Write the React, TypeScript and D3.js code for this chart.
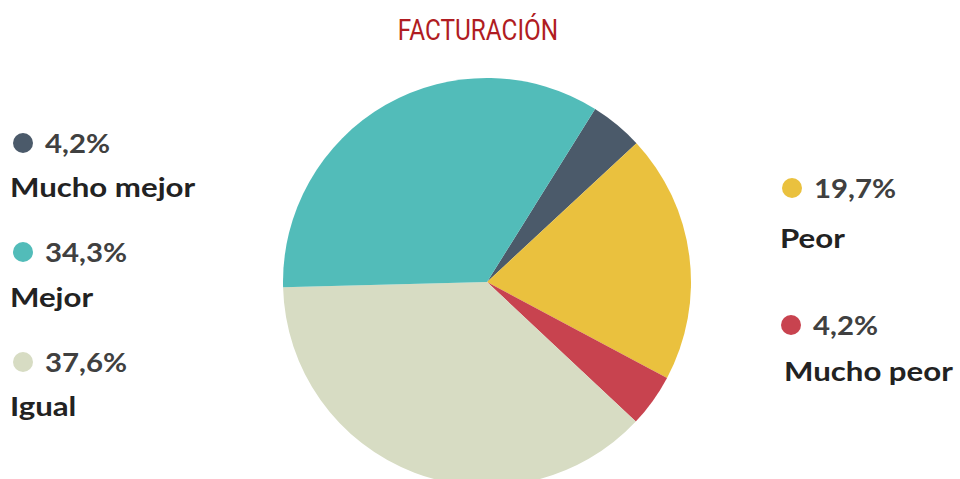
import React, { useRef, useEffect } from "react";
import * as d3 from "d3";

// slices in drawing order (clockwise from the start angle)
const labels = ["Mucho mejor", "Peor", "Mucho peor", "Igual", "Mejor"];
const values = [4.2, 19.7, 4.2, 37.6, 34.3];
const colors = ["#4b5a6a", "#eac13e", "#c8434f", "#d7dcc3", "#52bcb9"];

// legend layout: [dotX, dotY, labelX, labelY]
const legendPos: Record<string, [number, number, number, number]> = {
  "Mucho mejor": [23, 143, 10, 197],
  Mejor: [23, 252, 10, 307],
  Igual: [23, 362, 10, 416],
  Peor: [792, 188, 780, 248],
  "Mucho peor": [791, 325, 784, 381],
};

const fmt = (v: number) => v.toFixed(1).replace(".", ",") + "%";

const stretch = (x: number, s: number) => `translate(${x},0) scale(${s},1) translate(${-x},0)`;

const App: React.FC = () => {
  const svgRef = useRef<SVGSVGElement>(null);

  useEffect(() => {
    if (!svgRef.current) return;
    const svg = d3.select(svgRef.current);
    svg.selectAll("*").remove();

    const width = 960;
    const height = 479;
    const cx = 487;
    const cy = 282;
    const radius = 204;

    svg.attr("width", width).attr("height", height);

    svg.append("text")
      .attr("x", 478)
      .attr("y", 40)
      .attr("text-anchor", "middle")
      .attr("font-family", "Roboto, sans-serif")
      .attr("font-size", 29)
      .attr("fill", "#b01c22")
      .attr("transform", stretch(478, 0.84))
      .text("FACTURACIÓN");

    const data = labels.map((l, i) => ({ label: l, value: values[i], color: colors[i] }));

    const start = (32 * Math.PI) / 180;
    const pie = d3.pie<{ label: string; value: number; color: string }>()
      .sort(null)
      .value((d) => d.value)
      .startAngle(start)
      .endAngle(start + 2 * Math.PI);

    const arc = d3.arc<d3.PieArcDatum<{ label: string; value: number; color: string }>>()
      .innerRadius(0)
      .outerRadius(radius);

    const g = svg.append("g").attr("transform", `translate(${cx},${cy})`);
    g.selectAll("path")
      .data(pie(data))
      .join("path")
      .attr("d", arc)
      .attr("fill", (d) => d.data.color);

    const font = "Lato, 'Open Sans', sans-serif";
    data.forEach((d) => {
      const [dx, dy, lx, ly] = legendPos[d.label];
      svg.append("circle").attr("cx", dx).attr("cy", dy).attr("r", 10).attr("fill", d.color);
      svg.append("text")
        .attr("x", dx + 22)
        .attr("y", dy + 10)
        .attr("font-family", font)
        .attr("font-weight", 700)
        .attr("font-size", 26)
        .attr("fill", "#404040")
        .attr("transform", stretch(dx + 22, 1.13))
        .text(fmt(d.value));
      svg.append("text")
        .attr("x", lx)
        .attr("y", ly)
        .attr("font-family", font)
        .attr("font-weight", 700)
        .attr("font-size", 26)
        .attr("fill", "#222")
        .attr("transform", stretch(lx, 1.2))
        .text(d.label);
    });

    return () => {
      svg.selectAll("*").remove();
    };
  }, []);

  return <svg ref={svgRef} style={{ position: "absolute", left: 0, top: 0 }}></svg>;
};

export default App;
